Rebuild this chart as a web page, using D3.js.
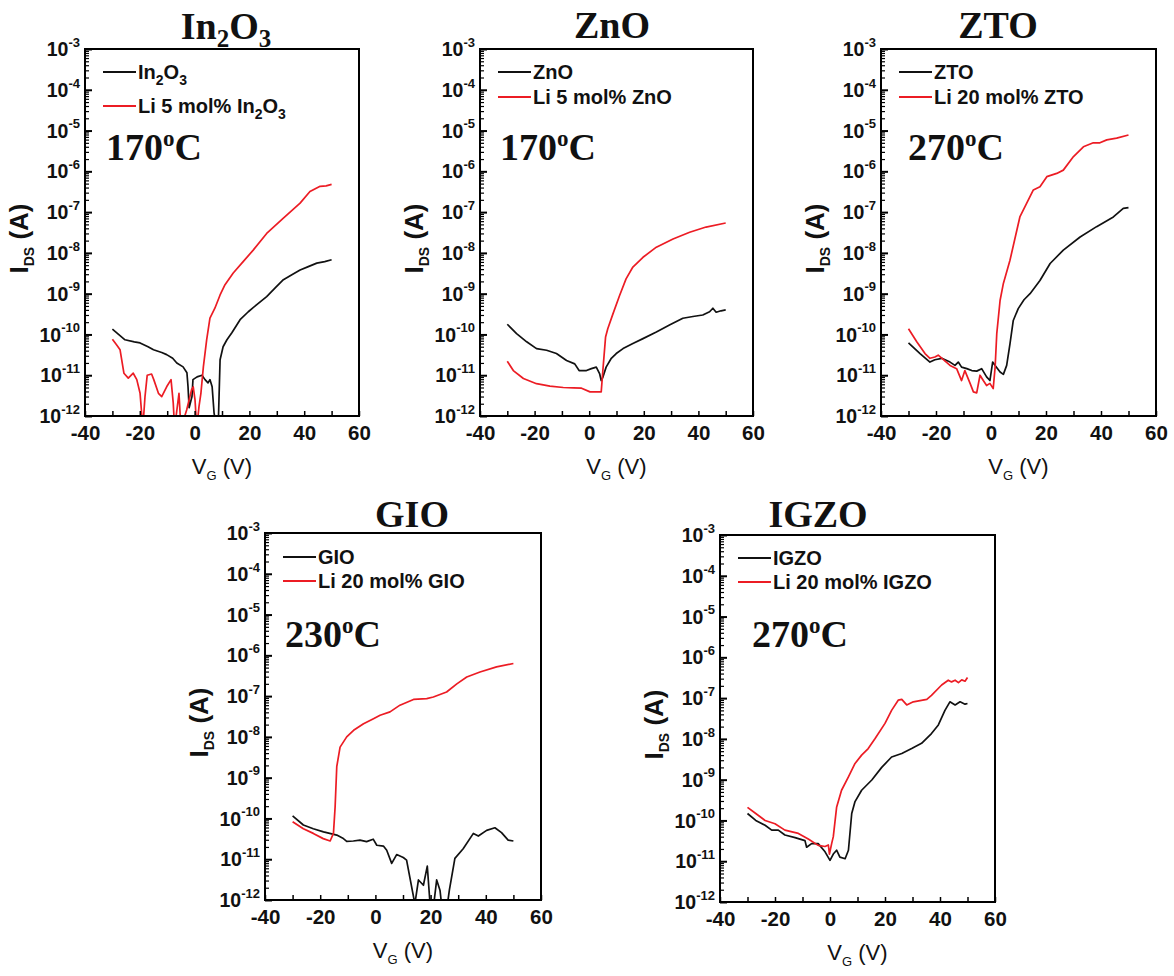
<!DOCTYPE html>
<html><head><meta charset="utf-8">
<script src="https://cdn.jsdelivr.net/npm/d3@7"></script>
<style>body{margin:0;background:#fff}svg{display:block}</style>
</head><body>
<svg id="c" width="1174" height="976"></svg>
<script>
// ---------------- DATA ----------------
const titles = ["In{2}O{3}", "ZnO", "ZTO", "GIO", "IGZO"];
const temps = ["170", "170", "270", "230", "270"];
const legendPure = ["In{2}O{3}", "ZnO", "ZTO", "GIO", "IGZO"];
const legendLi = ["Li 5 mol% In{2}O{3}", "Li 5 mol% ZnO", "Li 20 mol% ZTO", "Li 20 mol% GIO", "Li 20 mol% IGZO"];
const xTickValues = [-40, -30, -20, -10, 0, 10, 20, 30, 40, 50, 60];
const xTickLabels = [-40, -20, 0, 20, 40, 60];
const yTickExponents = [-3, -4, -5, -6, -7, -8, -9, -10, -11, -12];

// [V_G (V), I_DS (A)]
const in2o3Pure = [[-30,1.35e-10],[-25.4,7.4e-11],[-22,6.6e-11],[-19.9,6.2e-11],[-17,5.0e-11],[-15,4.2e-11],[-12,3.6e-11],[-10.2,3.2e-11],[-8,2.6e-11],[-6.5,2.0e-11],[-4.2,1.6e-11],[-2.8,1.15e-11],[-2.4,5.2e-12],[-2.0,1.6e-12],[-0.95,3.0e-12],[-0.6,7.8e-12],[0.9,9.1e-12],[2.7,1.0e-11],[3.8,7.8e-12],[4.9,6.5e-12],[5.6,7.8e-12],[6.4,5.2e-12],[7.1,1.2e-12],[8.0,5e-13],[8.6,5e-13],[9.3,2.4e-11],[10.4,5.0e-11],[11.8,7.4e-11],[13.6,1.1e-10],[16.6,2.3e-10],[19.6,3.6e-10],[22.7,5.4e-10],[26.3,8.5e-10],[29.5,1.4e-9],[32.4,2.2e-9],[35.5,2.9e-9],[38.5,3.8e-9],[41.5,4.6e-9],[44.6,5.6e-9],[47.5,6.1e-9],[50,6.8e-9]];
const in2o3Li = [[-30,7.6e-11],[-28.5,5.6e-11],[-27.2,4.2e-11],[-25.8,1.12e-11],[-24.2,8.5e-12],[-22.4,1.12e-11],[-21.1,7.8e-12],[-19.9,3.6e-12],[-18.9,5e-13],[-18.1,3.0e-12],[-17.3,1.0e-11],[-15.7,1.07e-11],[-14.9,7.8e-12],[-13.2,3.6e-12],[-12.0,3.0e-12],[-10.2,5.2e-12],[-8.6,7.8e-12],[-7.8,2.1e-12],[-7.3,5e-13],[-5.7,3.6e-12],[-5.0,5e-13],[-2.9,1.4e-12],[-1.1,4.4e-12],[-0.5,5.2e-12],[0.15,2.5e-12],[0.8,5e-13],[1.6,1.7e-12],[2.3,3.6e-12],[3.2,1.6e-11],[4.4,7.4e-11],[5.6,2.5e-10],[7.4,4.4e-10],[9.3,9.3e-10],[11.1,1.66e-9],[14.1,3.2e-9],[17.8,6.2e-9],[21.4,1.17e-8],[26.3,3.0e-8],[32.4,7.1e-8],[38.5,1.66e-7],[42.1,3.2e-7],[45.8,4.3e-7],[48,4.4e-7],[50,4.8e-7]];

const znoPure = [[-30,1.78e-10],[-26.6,1.05e-10],[-22.9,6.6e-11],[-19.3,4.5e-11],[-15.6,4.1e-11],[-12.0,3.4e-11],[-8.3,2.3e-11],[-5.3,1.9e-11],[-3.7,1.3e-11],[-1.0,1.3e-11],[0.8,1.45e-11],[2.6,1.58e-11],[3.8,1.1e-11],[4.4,7.4e-12],[5.0,8.9e-12],[6.2,1.58e-11],[8.1,2.6e-11],[9.9,3.4e-11],[12.4,4.5e-11],[16.0,6.0e-11],[19.7,7.9e-11],[24.6,1.15e-10],[29.4,1.7e-10],[34.3,2.5e-10],[38.0,2.75e-10],[41.6,3.0e-10],[44.1,3.6e-10],[45.3,4.4e-10],[46.5,3.5e-10],[48.3,3.8e-10],[50,4.0e-10]];
const znoLi = [[-30,2.2e-11],[-27.8,1.3e-11],[-24.1,8.3e-12],[-19.3,6.2e-12],[-14.4,5.4e-12],[-9.5,5.0e-12],[-5.8,4.9e-12],[-2.8,4.8e-12],[0.3,3.9e-12],[2.6,3.9e-12],[4.4,3.9e-12],[5.0,1.3e-11],[6.0,8.7e-11],[6.8,1.38e-10],[8.7,3.2e-10],[11.1,8.9e-10],[13.5,2.3e-9],[16.0,4.5e-9],[19.7,7.8e-9],[24.6,1.38e-8],[30.7,2.2e-8],[36.8,3.2e-8],[42.8,4.3e-8],[50,5.4e-8]];

const ztoPure = [[-30,6.2e-11],[-25.8,3.4e-11],[-22.2,2.1e-11],[-20.4,2.4e-11],[-17.9,2.6e-11],[-14.9,2.1e-11],[-13.1,1.74e-11],[-11.9,2.1e-11],[-10.7,1.58e-11],[-8.8,1.45e-11],[-7.0,1.3e-11],[-5.2,1.26e-11],[-3.4,1.45e-11],[-1.6,9.1e-12],[-0.4,7.4e-12],[0.6,2.1e-11],[1.5,1.74e-11],[3.3,1.2e-11],[4.5,1.05e-11],[5.7,1.74e-11],[6.9,5.9e-11],[8.1,2.2e-10],[9.9,4.3e-10],[12,7.1e-10],[14.2,1.0e-9],[17.8,2.1e-9],[21.5,5.5e-9],[26.3,1.17e-8],[32.4,2.45e-8],[38.4,4.4e-8],[44.5,7.6e-8],[48.1,1.23e-7],[50,1.29e-7]];
const ztoLi = [[-30,1.38e-10],[-27.0,6.6e-11],[-24.0,3.4e-11],[-22.2,2.6e-11],[-20.4,2.8e-11],[-19.2,3.1e-11],[-17.3,2.4e-11],[-14.9,1.74e-11],[-12.5,1.45e-11],[-10.7,7.4e-12],[-9.5,1.3e-11],[-7.6,6.3e-12],[-6.4,3.9e-12],[-5.2,3.7e-12],[-4.0,1.0e-11],[-2.8,7.4e-12],[-1.6,5.6e-12],[-0.4,6.3e-12],[0.8,4.7e-12],[1.5,1.58e-11],[2.1,1.05e-10],[3.3,6.8e-10],[4.5,1.78e-9],[6.9,6.6e-9],[10.5,7.6e-8],[15.4,3.5e-7],[17.8,4.2e-7],[20.3,7.4e-7],[23.9,8.9e-7],[26.3,1.07e-6],[30,2.3e-6],[33.6,4.0e-6],[37.2,5.0e-6],[39.6,5.0e-6],[42.1,5.9e-6],[45.7,6.5e-6],[50,7.8e-6]];

const gioPure = [[-30,1.15e-10],[-26.1,6.9e-11],[-22.5,5.6e-11],[-18.8,4.7e-11],[-15.8,4.2e-11],[-14.0,3.9e-11],[-11.6,3.2e-11],[-10.4,2.75e-11],[-8.0,2.8e-11],[-5.6,2.95e-11],[-3.2,2.7e-11],[-0.8,3.1e-11],[0.5,2.2e-11],[2.9,2.1e-11],[4.1,1.66e-11],[5.9,7.9e-12],[7.7,1.3e-11],[10.1,1.1e-11],[11.3,9.5e-12],[14.3,8e-13],[15.6,3.1e-12],[17.4,2.3e-12],[18.8,6.8e-12],[19.8,8e-13],[20.8,5e-13],[22.2,3.1e-12],[23.4,1.74e-12],[24.3,5e-13],[25.7,5e-13],[26.8,1.74e-12],[28.8,1.05e-11],[31.8,1.8e-11],[35.5,4.3e-11],[37.3,3.7e-11],[40.3,5.1e-11],[43.3,5.9e-11],[45.7,4.5e-11],[48.1,2.95e-11],[50,2.8e-11]];
const gioLi = [[-30,8.3e-11],[-26.1,5.6e-11],[-22.5,4.3e-11],[-18.9,3.2e-11],[-16.4,2.8e-11],[-15.2,4.3e-11],[-14.6,1.9e-10],[-14.0,1.86e-9],[-12.8,5.6e-9],[-10.4,1.0e-8],[-7.9,1.45e-8],[-4.3,2.1e-8],[-0.7,2.8e-8],[1.7,3.4e-8],[5.3,4.1e-8],[8.9,6.0e-8],[13.8,8.3e-8],[18.6,8.7e-8],[21.0,9.5e-8],[25.8,1.26e-7],[29.5,2.0e-7],[33.1,2.95e-7],[37.9,3.9e-7],[43.9,5.2e-7],[50,6.3e-7]];

const igzoPure = [[-30,1.48e-10],[-27.0,1.0e-10],[-23.6,7.6e-11],[-21.2,5.8e-11],[-18.8,5.8e-11],[-16.4,4.4e-11],[-12.7,3.8e-11],[-9.1,3.2e-11],[-8.5,2.2e-11],[-6.7,2.7e-11],[-4.3,2.7e-11],[-1.8,1.7e-11],[0,1.05e-11],[1.2,1.5e-11],[2.4,1.86e-11],[3.6,1.26e-11],[5.5,1.15e-11],[6.7,1.86e-11],[7.9,1.48e-10],[9.1,2.9e-10],[11.5,5.5e-10],[15.2,9.8e-10],[18.8,2.0e-9],[22.4,3.6e-9],[26.1,4.4e-9],[29.7,5.8e-9],[33.3,7.8e-9],[36.9,1.35e-8],[39.4,2.2e-8],[41.8,5.0e-8],[43.6,8.1e-8],[45.5,6.8e-8],[47.3,8.1e-8],[49.1,7.1e-8],[50,7.4e-8]];
const igzoLi = [[-30,2.1e-10],[-27.0,1.48e-10],[-23.6,1.0e-10],[-20.0,8.3e-11],[-16.4,5.8e-11],[-11.5,4.8e-11],[-7.9,3.5e-11],[-4.3,2.45e-11],[-1.8,2.3e-11],[-0.6,2.5e-11],[-0.2,1.5e-11],[0.6,2.7e-11],[1.2,4.0e-11],[2.4,2.1e-10],[4.2,5.5e-10],[6.7,1.17e-9],[9.1,2.5e-9],[11.5,4.0e-9],[13.9,5.8e-9],[16.4,1.02e-8],[20.0,2.4e-8],[22.4,5.0e-8],[24.8,8.9e-8],[26.1,9.3e-8],[27.9,6.8e-8],[30.3,8.1e-8],[35.2,9.3e-8],[36.9,1.17e-7],[40.6,2.1e-7],[43.0,2.75e-7],[44.2,2.5e-7],[45.5,2.75e-7],[46.7,2.4e-7],[47.9,2.8e-7],[49.1,2.6e-7],[50,3.2e-7]];

const pureSeries = [in2o3Pure, znoPure, ztoPure, gioPure, igzoPure];
const liSeries = [in2o3Li, znoLi, ztoLi, gioLi, igzoLi];

// ---------------- LAYOUT ----------------
const layout = [
  {left:85,  right:359,  top:49,  bottom:416, titleX:226, titleY:39,  tempX:106, tempY:160, legY:[72,106]},
  {left:480, right:753,  top:49,  bottom:416, titleX:612, titleY:38,  tempX:500, tempY:160, legY:[72,97]},
  {left:881, right:1156, top:49,  bottom:416, titleX:998, titleY:38,  tempX:908, tempY:160, legY:[72,97]},
  {left:265, right:541,  top:533, bottom:900, titleX:412, titleY:527, tempX:285, tempY:647, legY:[557,581]},
  {left:720, right:995,  top:535, bottom:902, titleX:818, titleY:527, tempX:752, tempY:647, legY:[558,582]}
];
const SANS = "'Liberation Sans', Arial, Helvetica, sans-serif";
const SERIF = "'Liberation Serif', 'Times New Roman', Times, serif";
const RED = "#ec1c24";

const svg = d3.select("#c");
svg.append("rect").attr("width",1174).attr("height",976).attr("fill","#fff");
const defs = svg.append("defs");

function rich(sel, str, subSize, subDy) {
  const parts = str.split(/(\{[^}]*\})/).filter(s => s.length);
  let shifted = false;
  parts.forEach(s => {
    if (s.startsWith("{")) {
      sel.append("tspan").attr("font-size", subSize).attr("dy", subDy).text(s.slice(1, -1));
      shifted = true;
    } else {
      const t = sel.append("tspan").text(s);
      if (shifted) { t.attr("dy", -subDy); shifted = false; }
    }
  });
}

layout.forEach((L, i) => {
  const x = d3.scaleLinear().domain([-40, 60]).range([L.left, L.right]);
  const y = d3.scaleLog().domain([1e-12, 1e-3]).range([L.bottom, L.top]);
  const g = svg.append("g");

  defs.append("clipPath").attr("id", "clip" + i).append("rect")
    .attr("x", L.left).attr("y", L.top).attr("width", L.right - L.left).attr("height", L.bottom - L.top);

  const line = d3.line().x(d => x(d[0])).y(d => y(d[1]));
  const lines = g.append("g").attr("clip-path", `url(#clip${i})`);
  lines.append("path").datum(pureSeries[i]).attr("d", line)
    .attr("fill", "none").attr("stroke", "#111").attr("stroke-width", 1.7).attr("stroke-linejoin", "round");
  lines.append("path").datum(liSeries[i]).attr("d", line)
    .attr("fill", "none").attr("stroke", RED).attr("stroke-width", 1.7).attr("stroke-linejoin", "round");

  // Y axis: major ticks
  const majors = yTickExponents.map(e => Math.pow(10, e));
  const yAx = g.append("g").attr("transform", `translate(${L.left},0)`)
    .call(d3.axisLeft(y).tickValues(majors).tickSize(-7).tickPadding(5).tickFormat(""));
  yAx.select(".domain").remove();
  yAx.selectAll(".tick line").attr("stroke", "#000").attr("stroke-width", 2);
  yAx.selectAll(".tick text").each(function(d, k) {
    const t = d3.select(this).attr("font-family", SANS).attr("font-size", 19.5).attr("font-weight", "bold")
      .attr("fill", "#111").attr("dy", "0.34em");
    t.append("tspan").text("10");
    t.append("tspan").attr("font-size", 13).attr("dy", "-0.72em").text(String(yTickExponents[k]));
  });
  // Y axis: minor ticks
  const minors = [];
  for (let e = -12; e < -3; e++) for (let m = 2; m <= 9; m++) minors.push(m * Math.pow(10, e));
  const yMin = g.append("g").attr("transform", `translate(${L.left},0)`)
    .call(d3.axisLeft(y).tickValues(minors).tickSize(-4).tickFormat(""));
  yMin.select(".domain").remove();
  yMin.selectAll(".tick line").attr("stroke", "#000").attr("stroke-width", 1.2);

  // X axis
  const xAx = g.append("g").attr("transform", `translate(0,${L.bottom})`)
    .call(d3.axisBottom(x).tickValues(xTickValues).tickSize(-5).tickPadding(9)
      .tickFormat(d => xTickLabels.includes(d) ? String(d) : ""));
  xAx.select(".domain").remove();
  xAx.selectAll(".tick line").attr("stroke", "#000").attr("stroke-width", 1.5);
  xAx.selectAll(".tick text").attr("font-family", SANS).attr("font-size", 20.5)
    .attr("font-weight", "bold").attr("fill", "#111");

  // Frame
  g.append("rect").attr("x", L.left).attr("y", L.top)
    .attr("width", L.right - L.left).attr("height", L.bottom - L.top)
    .attr("fill", "none").attr("stroke", "#000").attr("stroke-width", 2);

  // Title
  const tt = g.append("text").attr("x", L.titleX).attr("y", L.titleY).attr("text-anchor", "middle")
    .attr("font-family", SERIF).attr("font-weight", "bold").attr("font-size", 38).attr("fill", "#111");
  rich(tt, titles[i], 25, 8);

  // Temperature
  const tp = g.append("text").attr("x", L.tempX).attr("y", L.tempY)
    .attr("font-family", SERIF).attr("font-weight", "bold").attr("font-size", 38).attr("fill", "#111");
  tp.append("tspan").text(temps[i]);
  tp.append("tspan").attr("font-size", 23).attr("dy", -14).text("o");
  tp.append("tspan").attr("dy", 14).text("C");

  // Legend
  [[legendPure[i], "#111"], [legendLi[i], RED]].forEach(([lab, col], k) => {
    const ly = L.legY[k];
    g.append("line").attr("x1", L.left + 18).attr("x2", L.left + 51).attr("y1", ly).attr("y2", ly)
      .attr("stroke", col).attr("stroke-width", 1.8);
    const lt = g.append("text").attr("x", L.left + 53).attr("y", ly + 6.5)
      .attr("font-family", SANS).attr("font-size", 20).attr("font-weight", "bold").attr("fill", "#111");
    rich(lt, lab, 14, 6);
  });

  // Axis titles
  const cx = (L.left + L.right) / 2, cy = (L.top + L.bottom) / 2;
  const xl = g.append("text").attr("x", cx).attr("y", L.bottom + 58).attr("text-anchor", "middle")
    .attr("font-family", SANS).attr("font-size", 22).attr("fill", "#111");
  xl.append("tspan").text("V");
  xl.append("tspan").attr("font-size", 13).attr("dy", 6).text("G");
  xl.append("tspan").attr("dy", -6).text(" (V)");

  const yl = g.append("text").attr("transform", `translate(${L.left - 57},${cy + 6}) rotate(-90)`)
    .attr("text-anchor", "middle").attr("font-family", SANS).attr("font-weight", "bold")
    .attr("font-size", 26).attr("fill", "#111");
  yl.append("tspan").text("I");
  yl.append("tspan").attr("font-size", 14).attr("dy", 6).text("DS");
  yl.append("tspan").attr("dy", -6).text(" (A)");
});
</script>
</body></html>
